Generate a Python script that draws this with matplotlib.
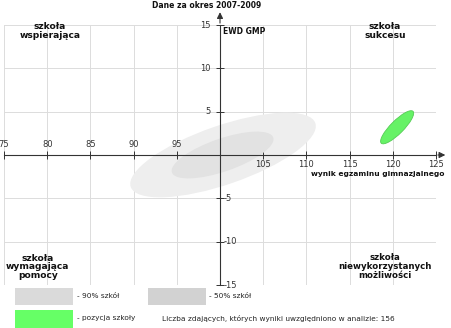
import matplotlib
matplotlib.use('Agg')
import matplotlib.pyplot as plt
from matplotlib.patches import Ellipse, Rectangle

#--------------------------------------------------------------
# Data
x_ticks   = [75, 80, 85, 90, 95, 100, 105, 110, 115, 120, 125]
y_ticks   = [-15, -10, -5, 0, 5, 10, 15]

# ellipses: centre x, centre y, width, height, angle (deg)
ell_90    = (100.35, 0.0, 22.6, 6.8, 19)
ell_50    = (100.3, 0.0, 12.4, 3.8, 19)
ell_school= (120.5, 3.2, 5.2, 1.5, 45)

n_students = 156

#--------------------------------------------------------------
W, H = 451, 328
fig = plt.figure(figsize=(W/100, H/100), dpi=100)
fig.patch.set_facecolor('white')

# axes placed so that 75..125 -> px 4..436 and -15..15 -> px 285..25
ax = fig.add_axes([4/W, (H-285)/H, 432/W, 260/H])
ax.set_xlim(75, 125)
ax.set_ylim(-15, 15)
ax.set_facecolor('white')

# grid
for xv in x_ticks:
    ax.axvline(xv, color='#dcdcdc', lw=0.7, zorder=0)
for yv in y_ticks:
    ax.axhline(yv, color='#dcdcdc', lw=0.7, zorder=0)

# ellipses
e1 = Ellipse(ell_90[:2], ell_90[2], ell_90[3], angle=ell_90[4], fc='#eeeeee', ec='none', zorder=1)
e2 = Ellipse(ell_50[:2], ell_50[2], ell_50[3], angle=ell_50[4], fc='#e2e2e2', ec='none', zorder=2)
e3 = Ellipse(ell_school[:2], ell_school[2], ell_school[3], angle=ell_school[4],
             fc='#66f266', ec='#55cc55', lw=0.6, zorder=3)
for e in (e1, e2, e3):
    ax.add_patch(e)

# axes through (100, 0)
for s in ('top', 'right'):
    ax.spines[s].set_visible(False)
ax.spines['left'].set_position(('data', 100))
ax.spines['bottom'].set_position(('data', 0))
ax.spines['left'].set_color('#333333')
ax.spines['bottom'].set_color('#333333')
ax.spines['left'].set_linewidth(0.8)
ax.spines['bottom'].set_linewidth(0.8)
ax.set_xticks(x_ticks)
ax.set_yticks(y_ticks)
ax.set_xticklabels([])
ax.set_yticklabels([])
ax.tick_params(direction='inout', length=6, width=0.7, color='#333333')

# arrow heads
ax.annotate('', xy=(126.4, 0), xytext=(124.9, 0), annotation_clip=False,
            arrowprops=dict(arrowstyle='-|>', color='#333333', lw=0.8, mutation_scale=9))
ax.annotate('', xy=(100, 16.8), xytext=(100, 14.9), annotation_clip=False,
            arrowprops=dict(arrowstyle='-|>', color='#333333', lw=0.8, mutation_scale=9))

# tick labels
tfs = 6
for xv in x_ticks:
    if xv < 100:
        ax.text(xv, 1.2, str(xv), ha='center', va='center', fontsize=tfs, color='#333333', clip_on=False)
    elif xv > 100:
        ax.text(xv, -1.15, str(xv), ha='center', va='center', fontsize=tfs, color='#333333', clip_on=False)
for yv in y_ticks:
    if yv > 0:
        ax.text(98.9, yv, str(yv), ha='right', va='center', fontsize=tfs, color='#333333')
    elif yv < 0:
        ax.text(100.4, yv, str(yv), ha='left', va='center', fontsize=tfs, color='#333333', clip_on=False)

# axis names
ax.text(100.3, 14.3, 'EWD GMP', ha='left', va='center', fontsize=5.5, fontweight='bold', color='#111111')
ax.text(126.0, -2.2, 'wynik egzaminu gimnazjalnego', ha='right', va='center',
        fontsize=5.4, fontweight='bold', color='#111111', clip_on=False)

# quadrant names
qfs = 6.6
ax.text(80.3, 14.3, 'szkoła\nwspierająca', ha='center', va='center', fontsize=qfs,
        fontweight='bold', linespacing=1.0, color='#111111')
ax.text(119.1, 14.3, 'szkoła\nsukcesu', ha='center', va='center', fontsize=qfs,
        fontweight='bold', linespacing=1.0, color='#111111')
ax.text(78.9, -12.9, 'szkoła\nwymagająca\npomocy', ha='center', va='center', fontsize=qfs,
        fontweight='bold', linespacing=0.95, color='#111111')
ax.text(119.1, -12.9, 'szkoła\nniewykorzystanych\nmożliwości', ha='center', va='center', fontsize=6.2,
        fontweight='bold', linespacing=1.0, color='#111111')

# title
fig.text(207/W, 1 - 5/H, 'Dane za okres 2007-2009', ha='center', va='center',
         fontsize=5.5, fontweight='bold', color='#111111')

# legend below the chart
def px_rect(x0, y0, x1, y1, color):
    fig.patches.append(Rectangle((x0/W, 1 - y1/H), (x1-x0)/W, (y1-y0)/H,
                                 transform=fig.transFigure, fc=color, ec='none'))

def px_text(x, y, s):
    fig.text(x/W, 1 - y/H, s, ha='left', va='center', fontsize=5.3, color='#222222')

px_rect(15, 288, 73, 305, '#dadada')
px_rect(148, 288, 206, 305, '#d2d2d2')
px_rect(15, 310, 73, 328, '#66ff66')
px_text(77, 296, '- 90% szkół')
px_text(209, 296, '- 50% szkół')
px_text(77, 318, '- pozycja szkoły')
px_text(162, 318, 'Liczba zdających, których wyniki uwzględniono w analizie: %d' % n_students)

plt.savefig('out.png', dpi=100)
